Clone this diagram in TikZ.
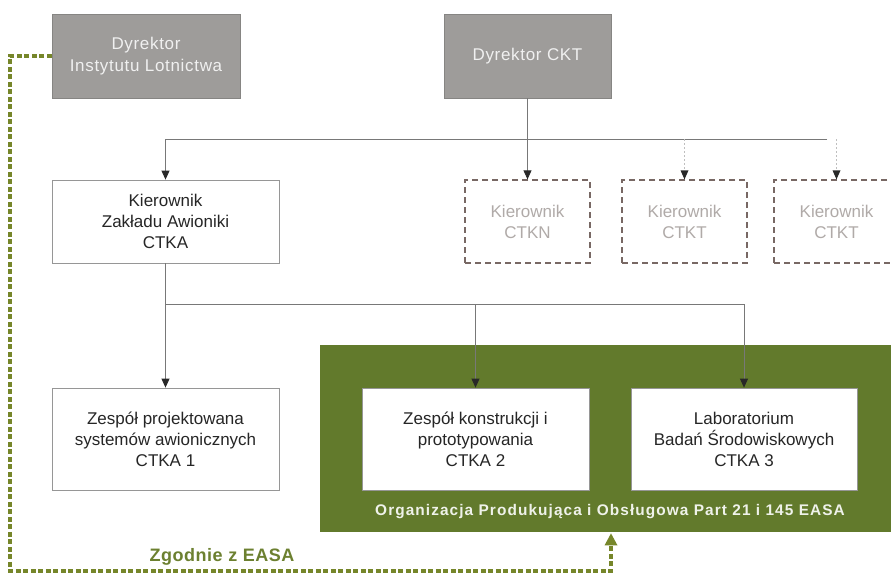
\documentclass[tikz,border=0pt]{standalone}
\usepackage{fontspec}
\setmainfont{Liberation Sans}
\newfontfamily\lsfont[LetterSpace=4]{Liberation Sans}
\newfontfamily\lsbfont[LetterSpace=7,BoldFont={Liberation Sans Bold}]{Liberation Sans}
\newfontfamily\zgfont[LetterSpace=3,BoldFont={Liberation Sans Bold}]{Liberation Sans}
\usetikzlibrary{arrows.meta}
\definecolor{dirgray}{RGB}{158,156,154}
\definecolor{orggreen}{RGB}{98,122,44}
\definecolor{easagreen}{RGB}{118,134,42}
\definecolor{zgreen}{RGB}{108,128,48}
\definecolor{boxline}{RGB}{150,150,150}
\definecolor{dashline}{RGB}{120,104,100}
\definecolor{dashtext}{RGB}{176,170,168}
\definecolor{conn}{RGB}{120,120,120}
\definecolor{tip}{RGB}{40,40,40}
\tikzset{
  dirbox/.style={rectangle, fill=dirgray, draw=dirgray!85!black, line width=0.6pt, text=white!94!black, align=center,
    font=\lsfont\fontsize{17}{22}\selectfont, inner sep=0pt},
  whitebox/.style={rectangle, fill=white, draw=boxline, line width=0.8pt, text=black!85, align=center,
    font=\fontsize{17}{21}\selectfont, inner sep=0pt},
  dashbox/.style={rectangle, fill=white, draw=dashline, line width=1.3pt, dash pattern=on 6pt off 4pt, text=dashtext, align=center,
    font=\fontsize{17}{21}\selectfont, inner sep=0pt},
  link/.style={draw=conn, line width=0.8pt},
  arr/.style={link, -{Triangle[width=8pt,length=9pt,color=tip,fill=tip]}},
  faint/.style={draw=black!25, line width=0.6pt, dash pattern=on 2pt off 2pt},
  easa/.style={draw=easagreen, line width=3.5pt, dash pattern=on 5pt off 2.5pt},
}
\begin{document}
\begin{tikzpicture}[x=1pt,y=-1pt]
\useasboundingbox (0,0) rectangle (891,573);
\fill[white] (0,0) rectangle (891,573);

% green organization frame
\node[rectangle, fill=orggreen, minimum width=575pt, minimum height=187pt, inner sep=0pt, anchor=north west] (org) at (320,345) {};
\node[text=white!90!orggreen, font=\lsbfont\bfseries\fontsize{15.4}{18}\selectfont] (orglabel) at (610,512) {Organizacja Produkująca i Obsługowa Part 21 i 145 EASA};

% directors
\node[dirbox, minimum width=188pt, minimum height=84pt] (dil) at (146,56) {Dyrektor\\Instytutu Lotnictwa};
\node[dirbox, minimum width=167pt, minimum height=84pt] (dckt) at (527.5,56) {Dyrektor CKT};

% second level
\node[whitebox, minimum width=227pt, minimum height=83pt] (kza) at (165.5,221.5) {Kierownik\\Zakładu Awioniki\\CTKA};
\node[dashbox, minimum width=125pt, minimum height=83pt] (ctkn) at (527.5,221.5) {Kierownik\\CTKN};
\node[dashbox, minimum width=125pt, minimum height=83pt] (ctkt1) at (684.5,221.5) {Kierownik\\CTKT};
\node[dashbox, minimum width=125pt, minimum height=83pt] (ctkt2) at (836.5,221.5) {Kierownik\\CTKT};

% third level
\node[whitebox, minimum width=227pt, minimum height=102pt] (zp) at (165.5,439) {Zespół projektowana\\systemów awionicznych\\CTKA 1};
\node[whitebox, minimum width=227pt, minimum height=102pt] (zk) at (475.5,439) {Zespół konstrukcji i\\prototypowania\\CTKA 2};
\node[whitebox, minimum width=226pt, minimum height=102pt] (lab) at (744,439) {Laboratorium\\Badań Środowiskowych\\CTKA 3};

% connectors upper
\coordinate (h1) at (165.5,139);
\coordinate (h2) at (827,139);
\draw[link] (h2) -- (h1);
\draw[arr] (h1) -- (kza.north);
\draw[arr] (dckt.south) -- (ctkn.north);
\draw[faint] (ctkt1.north |- h1) -- ([yshift=9pt]ctkt1.north);
\draw[faint] (ctkt2.north |- h1) -- ([yshift=9pt]ctkt2.north);
\fill[tip] ([xshift=-4pt,yshift=9pt]ctkt1.north) -- ([xshift=4pt,yshift=9pt]ctkt1.north) -- (ctkt1.north) -- cycle;
\fill[tip] ([xshift=-4pt,yshift=9pt]ctkt2.north) -- ([xshift=4pt,yshift=9pt]ctkt2.north) -- (ctkt2.north) -- cycle;

% connectors lower
\coordinate (h3) at (165.5,304);
\coordinate (h4) at (744,304);
\draw[arr] (kza.south) -- (zp.north);
\draw[link] (h3) -- (h4);
\draw[arr] (h4) -- (lab.north);
\draw[arr] (zk.north |- h3) -- (zk.north);

% EASA dashed link
\coordinate (e1) at (10,56);
\coordinate (e2) at (10,571);
\coordinate (e3) at (611,571);
\draw[easa] (dil.west) -- (e1) -- (e2) -- (e3) -- ([yshift=-10pt]org.south -| e3);
\fill[easagreen] ([xshift=-6.5pt,yshift=-13pt]org.south -| e3) -- ([xshift=6.5pt,yshift=-13pt]org.south -| e3) -- ([yshift=-1pt]org.south -| e3) -- cycle;
\node[text=zgreen, font=\zgfont\bfseries\fontsize{18}{20}\selectfont] (zg) at (222,557) {Zgodnie z EASA};
\end{tikzpicture}
\end{document}
